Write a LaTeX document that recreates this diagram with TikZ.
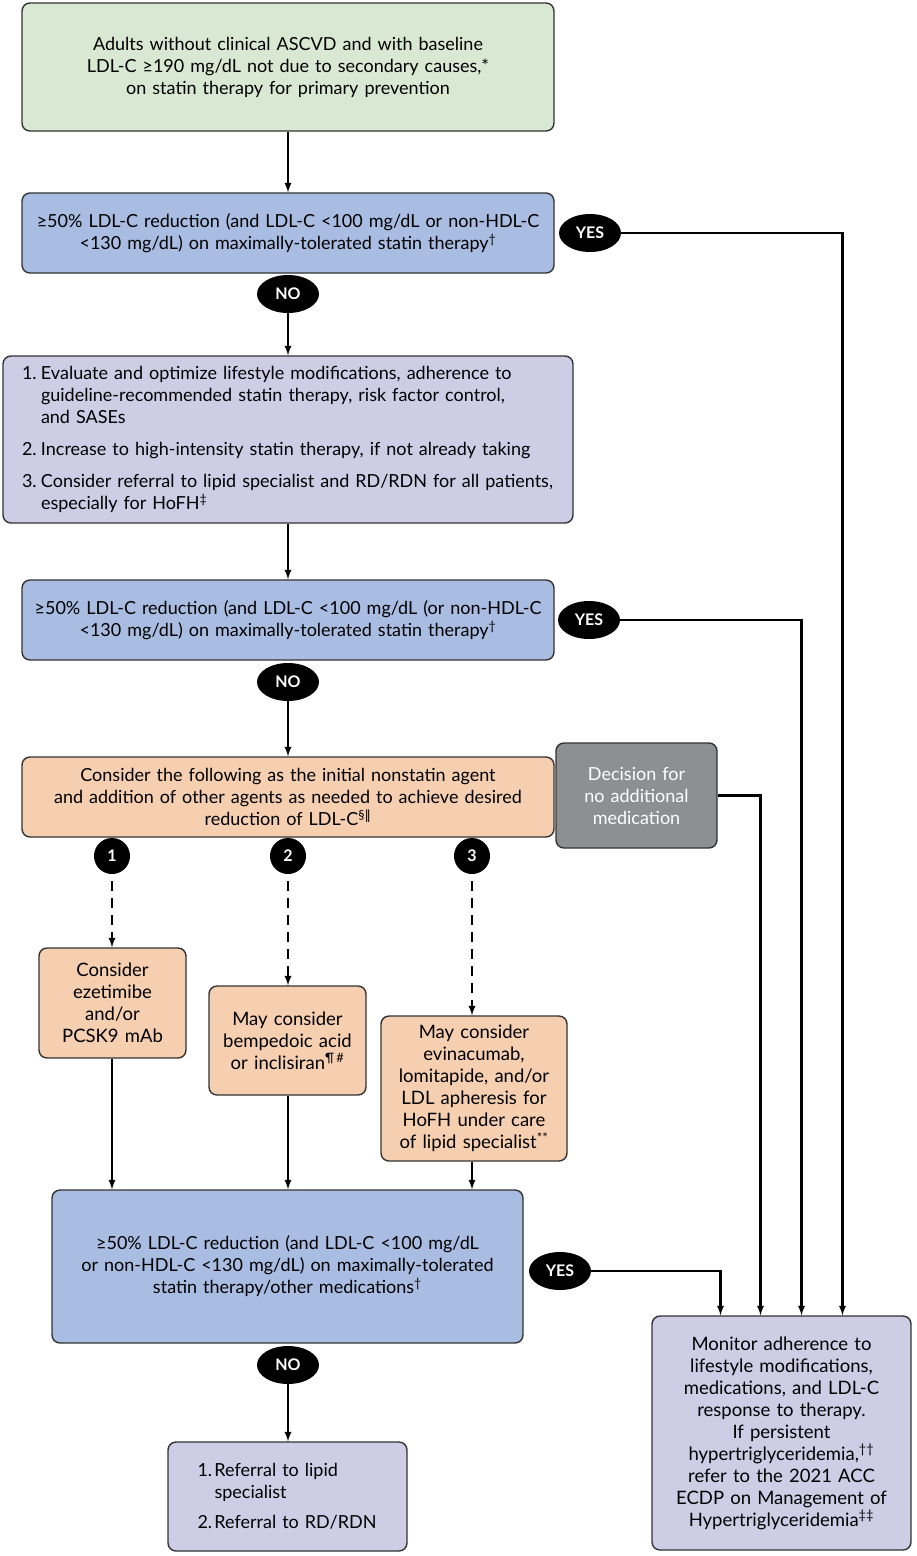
\documentclass[tikz,border=0pt]{standalone}
\usepackage{fontspec}
\setmainfont{Lato}
\newfontfamily\symfont{DejaVu Sans}
\usetikzlibrary{shapes.geometric}

\definecolor{startgreen}{HTML}{D9E8D2}
\definecolor{checkblue}{HTML}{A9BDE2}
\definecolor{steplav}{HTML}{CFCCE6}
\definecolor{agentpeach}{HTML}{F5CFB0}
\definecolor{stopgray}{HTML}{8E8F91}

\begin{document}
\begin{tikzpicture}[
        x=1pt, y=-1pt,
        box/.style={draw=black!80, line width=1.4pt, rounded corners=8pt, align=center, inner sep=0pt, font=\fontsize{18}{22}\selectfont},
        smallbox/.style={box, font=\fontsize{18.5}{22}\selectfont},
        answer/.style={ellipse, fill=black, text=white, minimum width=62pt, minimum height=38pt, inner sep=0pt, font=\fontsize{16}{18}\selectfont\bfseries},
        number/.style={circle, fill=black, text=white, minimum size=36pt, inner sep=0pt, font=\fontsize{16}{18}\selectfont\bfseries},
        arr/.style={draw, line width=2.2pt, -latex},
        dasharr/.style={arr, dash pattern=on 10pt off 7pt, shorten <=7pt}
    ]
 \useasboundingbox (0,0) rectangle (916,1556);

 % main column
 \node[box, fill=startgreen, minimum width=532pt, minimum height=128pt, text width=520pt] (start) at (288,67)
     {Adults without clinical ASCVD and with baseline\\
      LDL-C ≥190 mg/dL not due to secondary causes,*\\
      on statin therapy for primary prevention};
 \node[box, fill=checkblue, minimum width=532pt, minimum height=80pt, text width=526pt] (check1) at (288,233)
     {≥50\% LDL-C reduction (and LDL-C <100 mg/dL or non-HDL-C\\
      <130 mg/dL) on maximally-tolerated statin therapy\textsuperscript{†}};
 \node[answer] (yes1) at (590,233) {YES};
 \node[answer] (no1) at (288,294) {NO};
 \node[box, fill=steplav, minimum width=570pt, minimum height=167pt, text width=532pt, align=left] (steps) at (288,439.5)
     {\makebox[19pt][l]{1.}Evaluate and optimize lifestyle modifications, adherence to\\
      \hspace*{19pt}guideline-recommended statin therapy, risk factor control,\\
      \hspace*{19pt}and SASEs\\[10pt]
      \makebox[19pt][l]{2.}Increase to high-intensity statin therapy, if not already taking\\[10pt]
      \makebox[19pt][l]{3.}Consider referral to lipid specialist and RD/RDN for all patients,\\
      \hspace*{19pt}especially for HoFH\textsuperscript{‡}};
 \node[box, fill=checkblue, minimum width=532pt, minimum height=80pt, text width=526pt] (check2) at (288,620)
     {≥50\% LDL-C reduction (and LDL-C <100 mg/dL (or non-HDL-C\\
      <130 mg/dL) on maximally-tolerated statin therapy\textsuperscript{†}};
 \node[answer] (yes2) at (589,620) {YES};
 \node[answer] (no2) at (288,682) {NO};
 \node[box, fill=agentpeach, minimum width=532pt, minimum height=80pt, text width=526pt] (nonstatin) at (288,797)
     {Consider the following as the initial nonstatin agent\\
      and addition of other agents as needed to achieve desired\\
      reduction of LDL-C\textsuperscript{§{\symfont ‖}}};
 \node[box, fill=stopgray, text=white, minimum width=161pt, minimum height=105pt, text width=155pt] (nomed) at (636.5,795.5)
     {Decision for\\ no additional\\ medication};

 % numbered options
 \node[number] (n1) at (112,856) {1};
 \node[number] (n2) at (288,856) {2};
 \node[number] (n3) at (472,856) {3};
 \node[smallbox, fill=agentpeach, minimum width=147pt, minimum height=110pt, text width=140pt] (opt1) at (112.5,1003)
     {Consider\\ ezetimibe\\ and/or\\ PCSK9 mAb};
 \node[smallbox, fill=agentpeach, minimum width=157pt, minimum height=109pt, text width=150pt] (opt2) at (287.5,1040.5)
     {May consider\\ bempedoic acid\\ or inclisiran\textsuperscript{¶\,\#}};
 \node[smallbox, fill=agentpeach, minimum width=186pt, minimum height=145pt, text width=180pt] (opt3) at (474,1088.5)
     {May consider\\ evinacumab,\\ lomitapide, and/or\\ LDL apheresis for\\ HoFH under care\\ of lipid specialist\textsuperscript{**}};

 \node[box, fill=checkblue, minimum width=471pt, minimum height=153pt, text width=464pt] (check3) at (287.5,1266.5)
     {≥50\% LDL-C reduction (and LDL-C <100 mg/dL\\
      or non-HDL-C <130 mg/dL) on maximally-tolerated\\
      statin therapy/other medications\textsuperscript{†}};
 \node[answer] (yes3) at (560,1271) {YES};
 \node[answer] (no3) at (288,1365) {NO};
 \node[smallbox, fill=steplav, minimum width=239pt, minimum height=109pt, text width=180pt, align=left, font=\fontsize{18}{22}\selectfont] (refer) at (287.5,1496.5)
     {\makebox[17pt][l]{1.}Referral to lipid\\
      \hspace*{17pt}specialist\\[8pt]
      \makebox[17pt][l]{2.}Referral to RD/RDN};
 \node[smallbox, fill=steplav, minimum width=259pt, minimum height=234pt, text width=254pt] (monitor) at (781.5,1433)
     {Monitor adherence to\\ lifestyle modifications,\\ medications, and LDL-C\\ response to therapy.\\
      If persistent\\ hypertriglyceridemia,\textsuperscript{††}\\ refer to the 2021 ACC\\
      ECDP on Management of\\ Hypertriglyceridemia\textsuperscript{‡‡}};

 % connectors
 \draw[arr] (start) -- (check1);
 \draw[arr] (no1) -- (steps);
 \draw[arr] (steps) -- (check2);
 \draw[arr] (no2) -- (nonstatin);
 \draw[dasharr] (n1) -- (n1 |- opt1.north);
 \draw[dasharr] (n2) -- (n2 |- opt2.north);
 \draw[dasharr] (n3) -- (n3 |- opt3.north);
 \draw[arr] (opt1.south -| n1) -- (n1 |- check3.north);
 \draw[arr] (opt2.south -| n2) -- (n2 |- check3.north);
 \draw[arr] (opt3.south -| n3) -- (n3 |- check3.north);
 \draw[arr] (no3) -- (no3 |- refer.north);
 \draw[arr] (yes1) -| ([xshift=61pt]monitor.north);
 \draw[arr] (yes2) -| ([xshift=20pt]monitor.north);
 \draw[arr] (nomed) -| ([xshift=-21pt]monitor.north);
 \draw[arr] (yes3) -| ([xshift=-61pt]monitor.north);
\end{tikzpicture}
\end{document}
